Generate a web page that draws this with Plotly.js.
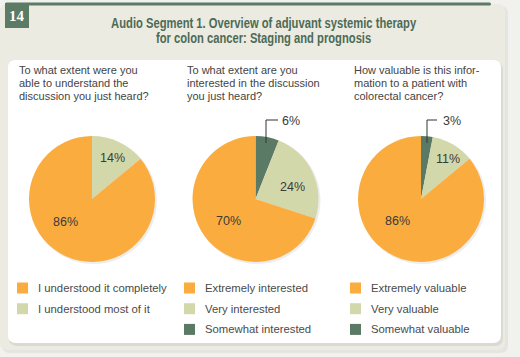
<!DOCTYPE html>
<html><head><meta charset="utf-8">
<script src="https://cdn.plot.ly/plotly-3.0.1.min.js"></script>
<style>html,body{margin:0;padding:0;background:#f1f1ee;}#chart{width:520px;height:357px;}</style>
</head><body><div id="chart"></div>
<script>
// ---- data ----
const figureNumber = '14';
const titleLines = ['Audio Segment 1. Overview of adjuvant systemic therapy', 'for colon cancer: Staging and prognosis'];
const question1 = ['To what extent were you', 'able to understand the', 'discussion you just heard?'];
const question2 = ['To what extent are you', 'interested in the discussion', 'you just heard?'];
const question3 = ['How valuable is this infor-', 'mation to a patient with', 'colorectal cancer?'];
const labels1 = ['I understood it completely', 'I understood most of it'];
const values1 = [86, 14];
const labels2 = ['Extremely interested', 'Very interested', 'Somewhat interested'];
const values2 = [70, 24, 6];
const labels3 = ['Extremely valuable', 'Very valuable', 'Somewhat valuable'];
const values3 = [86, 11, 3];

// ---- styling / layout helpers ----
const W = 520, H = 357;
const X = p => p / W, Y = p => 1 - p / H;
const colors = ['#fbac3f', '#d3d8ab', '#5b7a65'];
const green = '#5b7b64';
const textCol = '#444444';
const bodyFont = 'Liberation Sans, Arial, sans-serif';

function rrect(x0, y0, x1, y1, r) {
  const P = (x, y) => X(x) + ',' + Y(y);
  return 'M' + P(x0 + r, y0) + ' L' + P(x1 - r, y0) + ' Q' + P(x1, y0) + ' ' + P(x1, y0 + r) +
    ' L' + P(x1, y1 - r) + ' Q' + P(x1, y1) + ' ' + P(x1 - r, y1) +
    ' L' + P(x0 + r, y1) + ' Q' + P(x0, y1) + ' ' + P(x0, y1 - r) +
    ' L' + P(x0, y0 + r) + ' Q' + P(x0, y0) + ' ' + P(x0 + r, y0) + ' Z';
}
const shapes = [];
const ann = [];
function pathShape(d, fill, layer) {
  shapes.push({type: 'path', xref: 'paper', yref: 'paper', path: d, fillcolor: fill, line: {width: 0}, layer: layer || 'below'});
}
// card + shadow
pathShape(rrect(2, 6, 508, 353, 8), 'rgba(0,0,0,0.05)');
pathShape(rrect(0, 4, 505, 350, 8), '#ebebe2');
// top green rule
pathShape(rrect(5, 2.5, 491, 5.5, 1.5), green);
// number box
shapes.push({type: 'rect', xref: 'paper', yref: 'paper', x0: X(5), x1: X(29), y0: Y(28), y1: Y(3), fillcolor: green, line: {width: 0}, layer: 'below'});
// white panel + shadow
pathShape(rrect(9, 62, 503, 346, 8), 'rgba(0,0,0,0.07)');
pathShape(rrect(8, 60, 501, 343, 8), '#ffffff');

function txt(x, y, text, opts) {
  ann.push(Object.assign({xref: 'paper', yref: 'paper', x: X(x), y: Y(y), text: text, showarrow: false,
    xanchor: 'left', yanchor: 'middle', font: {family: bodyFont, size: 11, color: textCol}}, opts || {}));
}
txt(17, 16, figureNumber, {xanchor: 'center', font: {family: 'Liberation Serif, DejaVu Serif, serif', size: 15, color: '#ffffff', weight: 'bold'}});
titleLines.forEach((t, i) => txt(263, 23 + i * 15, t, {xanchor: 'center', name: 'title' + i,
  font: {family: 'Liberation Sans, Arial, sans-serif', size: 14, color: '#4d6a55', weight: 'bold'}}));

const panels = [
  {q: question1, labels: labels1, values: values1, qx: 17, cx: 92, lx: 17},
  {q: question2, labels: labels2, values: values2, qx: 185, cx: 255.5, lx: 184},
  {q: question3, labels: labels3, values: values3, qx: 352, cx: 421, lx: 350}
];
const cy = 199, R = 63;
// hand-placed label positions [x,y] per slice
const labelPos = [
  [[65, 222], [112, 158]],
  [[228.5, 221], [292, 187], [291, 121]],
  [[397, 221], [447.5, 159], [452, 121]]
];
const traces = [];
panels.forEach((p, k) => {
  p.q.forEach((line, i) => txt(p.qx, 70 + i * 13, line));
  // pie shadow
  shapes.push({type: 'circle', xref: 'paper', yref: 'paper', x0: X(p.cx - R + 1), x1: X(p.cx + R + 2), y0: Y(cy + R + 2), y1: Y(cy - R + 1),
    fillcolor: 'rgba(0,0,0,0.07)', line: {width: 0}, layer: 'below'});
  // small slices come first clockwise from 12 o'clock
  traces.push({type: 'pie', values: p.values.slice().reverse(), labels: p.labels.slice().reverse(),
    sort: false, direction: 'clockwise', rotation: 0,
    marker: {colors: colors.slice(0, p.values.length).reverse(), line: {width: 0}}, textinfo: 'none', hoverinfo: 'skip',
    showlegend: false, domain: {x: [X(p.cx - R), X(p.cx + R)], y: [Y(cy + R), Y(cy - R)]}});
  p.values.forEach((v, i) => {
    const pos = labelPos[k][i];
    txt(pos[0], pos[1], v + '%', {xanchor: 'center', font: {family: bodyFont, size: 12.5, color: '#3a3a3a'}});
  });
  // legend
  p.labels.forEach((l, i) => {
    const ly = 288 + i * 20.7;
    shapes.push({type: 'rect', xref: 'paper', yref: 'paper', x0: X(p.lx), x1: X(p.lx + 11), y0: Y(ly + 5.5), y1: Y(ly - 5.5),
      fillcolor: colors[i], line: {width: 0}, layer: 'above'});
    txt(p.lx + 19, ly, l, {font: {family: bodyFont, size: 11.3, color: '#4a4a4a'}});
  });
});
// leader lines for the small slices
[[266, 278], [427, 437]].forEach(([vx, hx]) => {
  shapes.push({type: 'path', xref: 'paper', yref: 'paper', layer: 'above',
    path: 'M' + X(vx) + ',' + Y(143) + ' L' + X(vx) + ',' + Y(120) + ' L' + X(hx) + ',' + Y(120),
    line: {color: '#333333', width: 1}});
});

Plotly.newPlot('chart', traces, {
  width: W, height: H, margin: {l: 0, r: 0, t: 0, b: 0},
  paper_bgcolor: '#f1f1ee', plot_bgcolor: 'rgba(0,0,0,0)',
  shapes: shapes, annotations: ann
}, {staticPlot: true}).then(gd => {
  // condense the title glyphs horizontally (the original uses a condensed face)
  const groups = gd.querySelectorAll('g.annotation');
  [1, 2].forEach(idx => {
    const t = groups[idx] && groups[idx].querySelector('text.annotation-text');
    if (!t) return;
    const w = t.getComputedTextLength();
    t.setAttribute('textLength', (w * 0.8).toFixed(1));
    t.setAttribute('lengthAdjust', 'spacingAndGlyphs');
  });
});
</script></body></html>
